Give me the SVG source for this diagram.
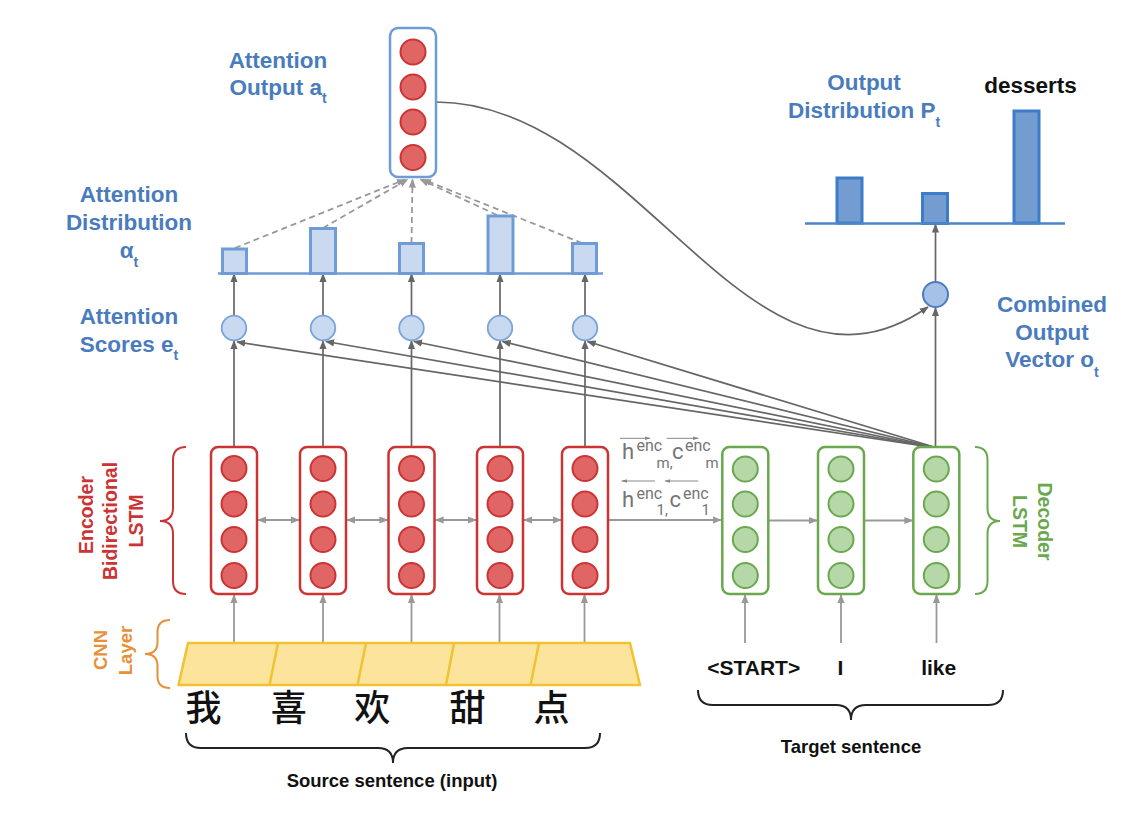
<svg xmlns="http://www.w3.org/2000/svg" width="1146" height="816" viewBox="0 0 1146 816">
<defs>
<style>
.lbl{font-family:"Liberation Sans",Arial,sans-serif;font-weight:bold;font-size:22.5px;fill:#4a7cbd;text-anchor:middle}
.sub{font-size:14px}
.blk{font-family:"Liberation Sans",Arial,sans-serif;font-weight:bold;fill:#111;text-anchor:middle}
.enc-box{fill:#fff;stroke:#cc3333;stroke-width:2.5}
.enc-c{fill:#e06666;stroke:#cc3333;stroke-width:2}
.dec-box{fill:#fff;stroke:#6aa84f;stroke-width:2.5}
.dec-c{fill:#b6d7a8;stroke:#6aa84f;stroke-width:2}
.att-box{fill:#fff;stroke:#6f9bd6;stroke-width:2.5}
.bar{fill:#c9daf0;stroke:#6f9bd6;stroke-width:3}
.obar{fill:#739dd1;stroke:#3d7cc9;stroke-width:3}
.sc{fill:#c9daf0;stroke:#7aa3db;stroke-width:1.8}
.dk{stroke:#666;stroke-width:1.7;fill:none}
.gr{stroke:#999;stroke-width:1.8;fill:none}
.ds{stroke:#999;stroke-width:1.8;fill:none;stroke-dasharray:6 4}
.hl{font-family:Roboto,"Liberation Sans",sans-serif;fill:#757575}
.brace{fill:none;stroke-width:2}
</style>
<marker id="ad" viewBox="0 0 10 10" refX="9" refY="5" markerWidth="9" markerHeight="9" markerUnits="userSpaceOnUse" orient="auto"><path d="M0,1 L10,5 L0,9 z" fill="#666"/></marker>
<marker id="ag" viewBox="0 0 10 10" refX="9" refY="5" markerWidth="9" markerHeight="9" markerUnits="userSpaceOnUse" orient="auto-start-reverse"><path d="M0,1 L10,5 L0,9 z" fill="#999"/></marker>
<marker id="as" viewBox="0 0 10 10" refX="9" refY="5" markerWidth="6" markerHeight="6" markerUnits="userSpaceOnUse" orient="auto"><path d="M0,2 L10,5 L0,8 z" fill="#888"/></marker>
</defs>

<rect width="1146" height="816" fill="#fff"/>

<g id="connectors">
  <line class="gr" x1="234" y1="643" x2="234" y2="595" marker-end="url(#ag)"/>
  <line class="gr" x1="323" y1="643" x2="323" y2="595" marker-end="url(#ag)"/>
  <line class="gr" x1="411.5" y1="643" x2="411.5" y2="595" marker-end="url(#ag)"/>
  <line class="gr" x1="499.5" y1="643" x2="499.5" y2="595" marker-end="url(#ag)"/>
  <line class="gr" x1="584.5" y1="643" x2="584.5" y2="595" marker-end="url(#ag)"/>
  <line class="gr" x1="745" y1="643" x2="745" y2="595" marker-end="url(#ag)"/>
  <line class="gr" x1="841" y1="643" x2="841" y2="595" marker-end="url(#ag)"/>
  <line class="gr" x1="936.5" y1="643" x2="936.5" y2="595" marker-end="url(#ag)"/>
  <line class="gr" x1="258" y1="520" x2="299" y2="520" marker-start="url(#ag)" marker-end="url(#ag)"/>
  <line class="gr" x1="347" y1="520" x2="387.5" y2="520" marker-start="url(#ag)" marker-end="url(#ag)"/>
  <line class="gr" x1="435.5" y1="520" x2="476" y2="520" marker-start="url(#ag)" marker-end="url(#ag)"/>
  <line class="gr" x1="524" y1="520" x2="561" y2="520" marker-start="url(#ag)" marker-end="url(#ag)"/>
  <line class="gr" x1="608" y1="520" x2="721" y2="520" marker-end="url(#ag)"/>
  <line class="gr" x1="768.5" y1="520.5" x2="817" y2="520.5" marker-end="url(#ag)"/>
  <line class="gr" x1="864.5" y1="520.5" x2="912.5" y2="520.5" marker-end="url(#ag)"/>
  <line class="dk" x1="234" y1="447" x2="234" y2="341" marker-end="url(#ad)"/>
  <line class="dk" x1="323" y1="447" x2="323" y2="341" marker-end="url(#ad)"/>
  <line class="dk" x1="411.5" y1="447" x2="411.5" y2="341" marker-end="url(#ad)"/>
  <line class="dk" x1="500" y1="447" x2="500" y2="341" marker-end="url(#ad)"/>
  <line class="dk" x1="585" y1="447" x2="585" y2="341" marker-end="url(#ad)"/>
  <line class="dk" x1="930" y1="447" x2="237" y2="342" marker-end="url(#ad)"/>
  <line class="dk" x1="931" y1="447" x2="326" y2="341.5" marker-end="url(#ad)"/>
  <line class="dk" x1="932" y1="447" x2="414" y2="341.5" marker-end="url(#ad)"/>
  <line class="dk" x1="933" y1="447" x2="502.5" y2="341.5" marker-end="url(#ad)"/>
  <line class="dk" x1="934" y1="447" x2="587.5" y2="341.5" marker-end="url(#ad)"/>
  <line class="dk" x1="234" y1="316" x2="234" y2="274" marker-end="url(#ad)"/>
  <line class="dk" x1="323" y1="316" x2="323" y2="274" marker-end="url(#ad)"/>
  <line class="dk" x1="411.5" y1="316" x2="411.5" y2="274" marker-end="url(#ad)"/>
  <line class="dk" x1="500" y1="316" x2="500" y2="274" marker-end="url(#ad)"/>
  <line class="dk" x1="585" y1="316" x2="585" y2="274" marker-end="url(#ad)"/>
  <line class="ds" x1="235" y1="248" x2="405" y2="179.5" marker-end="url(#ag)"/>
  <line class="ds" x1="323" y1="228" x2="407.5" y2="179.5" marker-end="url(#ag)"/>
  <line class="ds" x1="411.5" y1="243" x2="412.5" y2="179.5" marker-end="url(#ag)"/>
  <line class="ds" x1="497" y1="215" x2="420.5" y2="179.5" marker-end="url(#ag)"/>
  <line class="ds" x1="582" y1="243" x2="423" y2="179.5" marker-end="url(#ag)"/>
  <path class="dk" d="M436,102 C640,102 750,430 928,307" marker-end="url(#ad)"/>
  <line class="dk" x1="935.5" y1="447" x2="935.5" y2="308" marker-end="url(#ad)"/>
  <line class="dk" x1="935.5" y1="282" x2="935.5" y2="224.5" marker-end="url(#ad)"/>
</g>

<g id="cnn-layer">
  <polygon points="188,643 630,643 640,685 178.5,685" fill="#fce49c" stroke="#f1c232" stroke-width="2.5" stroke-linejoin="round"/>
  <line x1="278" y1="643" x2="269.5" y2="685" stroke="#f1c232" stroke-width="2.5"/>
  <line x1="366" y1="643" x2="357.5" y2="685" stroke="#f1c232" stroke-width="2.5"/>
  <line x1="454" y1="643" x2="446" y2="685" stroke="#f1c232" stroke-width="2.5"/>
  <line x1="539" y1="643" x2="530.5" y2="685" stroke="#f1c232" stroke-width="2.5"/>
</g>

<g id="enc1">
  <rect class="enc-box" x="211" y="447" width="46" height="147" rx="7"/>
  <circle class="enc-c" cx="234" cy="468.5" r="12.5"/><circle class="enc-c" cx="234" cy="504" r="12.5"/><circle class="enc-c" cx="234" cy="539.5" r="12.5"/><circle class="enc-c" cx="234" cy="575.5" r="12.5"/>
</g>
<g id="enc2">
  <rect class="enc-box" x="300" y="447" width="46" height="147" rx="7"/>
  <circle class="enc-c" cx="323" cy="468.5" r="12.5"/><circle class="enc-c" cx="323" cy="504" r="12.5"/><circle class="enc-c" cx="323" cy="539.5" r="12.5"/><circle class="enc-c" cx="323" cy="575.5" r="12.5"/>
</g>
<g id="enc3">
  <rect class="enc-box" x="388.5" y="447" width="46" height="147" rx="7"/>
  <circle class="enc-c" cx="411.5" cy="468.5" r="12.5"/><circle class="enc-c" cx="411.5" cy="504" r="12.5"/><circle class="enc-c" cx="411.5" cy="539.5" r="12.5"/><circle class="enc-c" cx="411.5" cy="575.5" r="12.5"/>
</g>
<g id="enc4">
  <rect class="enc-box" x="477" y="447" width="46" height="147" rx="7"/>
  <circle class="enc-c" cx="500" cy="468.5" r="12.5"/><circle class="enc-c" cx="500" cy="504" r="12.5"/><circle class="enc-c" cx="500" cy="539.5" r="12.5"/><circle class="enc-c" cx="500" cy="575.5" r="12.5"/>
</g>
<g id="enc5">
  <rect class="enc-box" x="562" y="447" width="46" height="147" rx="7"/>
  <circle class="enc-c" cx="585" cy="468.5" r="12.5"/><circle class="enc-c" cx="585" cy="504" r="12.5"/><circle class="enc-c" cx="585" cy="539.5" r="12.5"/><circle class="enc-c" cx="585" cy="575.5" r="12.5"/>
</g>

<g id="dec1">
  <rect class="dec-box" x="722.3" y="447" width="46" height="147" rx="7"/>
  <circle class="dec-c" cx="745.3" cy="469" r="12.5"/><circle class="dec-c" cx="745.3" cy="504" r="12.5"/><circle class="dec-c" cx="745.3" cy="539.5" r="12.5"/><circle class="dec-c" cx="745.3" cy="575.5" r="12.5"/>
</g>
<g id="dec2">
  <rect class="dec-box" x="818" y="447" width="46" height="147" rx="7"/>
  <circle class="dec-c" cx="841" cy="469" r="12.5"/><circle class="dec-c" cx="841" cy="504" r="12.5"/><circle class="dec-c" cx="841" cy="539.5" r="12.5"/><circle class="dec-c" cx="841" cy="575.5" r="12.5"/>
</g>
<g id="dec3">
  <rect class="dec-box" x="913.3" y="447" width="46" height="147" rx="7"/>
  <circle class="dec-c" cx="936.3" cy="469" r="12.5"/><circle class="dec-c" cx="936.3" cy="504" r="12.5"/><circle class="dec-c" cx="936.3" cy="539.5" r="12.5"/><circle class="dec-c" cx="936.3" cy="575.5" r="12.5"/>
</g>

<g id="attention-scores">
  <circle class="sc" cx="234" cy="328" r="12.3"/>
  <circle class="sc" cx="323" cy="328" r="12.3"/>
  <circle class="sc" cx="411.5" cy="328" r="12.3"/>
  <circle class="sc" cx="500" cy="328" r="12.3"/>
  <circle class="sc" cx="585" cy="328" r="12.3"/>
</g>

<g id="attention-distribution">
  <rect class="bar" x="222.5" y="249" width="24" height="24.5"/>
  <rect class="bar" x="310.5" y="228.5" width="25" height="45"/>
  <rect class="bar" x="399.5" y="243.5" width="24" height="30"/>
  <rect class="bar" x="488" y="216" width="25" height="57.5"/>
  <rect class="bar" x="572.5" y="243.5" width="24" height="30"/>
  <line x1="218" y1="273.5" x2="603" y2="273.5" stroke="#6f9bd6" stroke-width="2.5"/>
</g>

<g id="attention-output">
  <rect class="att-box" x="390" y="28" width="46" height="149" rx="8"/>
  <circle class="enc-c" cx="413" cy="52" r="12.5"/><circle class="enc-c" cx="413" cy="87" r="12.5"/><circle class="enc-c" cx="413" cy="122" r="12.5"/><circle class="enc-c" cx="413" cy="157.5" r="12.5"/>
</g>

<g id="combined-output">
  <circle cx="935.5" cy="294.5" r="12.5" fill="#a6c1e6" stroke="#4a7cc4" stroke-width="2"/>
</g>

<g id="output-distribution">
  <rect class="obar" x="837" y="178" width="25" height="45"/>
  <rect class="obar" x="922.5" y="193.5" width="25" height="30"/>
  <rect class="obar" x="1014" y="111" width="25" height="112"/>
  <line x1="805" y1="223.5" x2="1065" y2="223.5" stroke="#4a86c8" stroke-width="2.5"/>
  <text class="blk" x="1030.5" y="93.3" font-size="22.5">desserts</text>
</g>

<g id="braces">
  <path class="brace" stroke="#cc3333" d="M186,447 Q173,447 173,460 L173,508 Q173,521 160,521 Q173,521 173,534 L173,581 Q173,594 186,594"/>
  <path class="brace" stroke="#e69138" d="M170,620 Q157.5,620 157.5,632 L157.5,642 Q157.5,654 145,654 Q157.5,654 157.5,666 L157.5,676 Q157.5,688 170,688"/>
  <path class="brace" stroke="#6aa84f" d="M975,447 Q987.5,447 987.5,460 L987.5,508 Q987.5,521 1000,521 Q987.5,521 987.5,534 L987.5,581 Q987.5,594 975,594"/>
  <path class="brace" stroke="#222" stroke-width="1.6" d="M186,733 Q186,748 201,748 L378,748 Q393,748 393,763 Q393,748 408,748 L585,748 Q600,748 600,733"/>
  <path class="brace" stroke="#222" stroke-width="1.6" d="M698,690 Q698,705 713,705 L836,705 Q851,705 851,720 Q851,705 866,705 L988,705 Q1003,705 1003,690"/>
</g>

<g id="enc-state-labels">
  <line x1="620" y1="438.3" x2="650" y2="438.3" stroke="#888" stroke-width="1" marker-end="url(#as)"/>
  <line x1="666.7" y1="438.3" x2="698.3" y2="438.3" stroke="#888" stroke-width="1" marker-end="url(#as)"/>
  <line x1="655" y1="481" x2="621.7" y2="481" stroke="#888" stroke-width="1" marker-end="url(#as)"/>
  <line x1="698.3" y1="481" x2="665" y2="481" stroke="#888" stroke-width="1" marker-end="url(#as)"/>
  <text class="hl" x="622" y="459.3" font-size="22">h</text>
  <text class="hl" x="636.5" y="450.7" font-size="16">enc</text>
  <text class="hl" x="656.5" y="467.7" font-size="15">m,</text>
  <text class="hl" x="672" y="459.3" font-size="22">c</text>
  <text class="hl" x="685" y="450.7" font-size="16">enc</text>
  <text class="hl" x="705.5" y="467.7" font-size="15">m</text>
  <text class="hl" x="622" y="507.3" font-size="22">h</text>
  <text class="hl" x="636.5" y="499" font-size="16">enc</text>
  <text class="hl" x="656.5" y="515" font-size="15">1,</text>
  <text class="hl" x="669.5" y="507.3" font-size="22">c</text>
  <text class="hl" x="683" y="499" font-size="16">enc</text>
  <text class="hl" x="701.5" y="515" font-size="15">1</text>
</g>

<g id="labels">
  <text class="lbl" x="278" y="68.3">Attention</text>
  <text class="lbl" x="278" y="95">Output a<tspan class="sub" dy="7.7">t</tspan></text>
  <text class="lbl" x="129" y="201.7">Attention</text>
  <text class="lbl" x="129" y="230">Distribution</text>
  <text class="lbl" x="129" y="258">α<tspan class="sub" dy="8.5">t</tspan></text>
  <text class="lbl" x="129" y="324">Attention</text>
  <text class="lbl" x="129" y="351.7">Scores e<tspan class="sub" dy="8.3">t</tspan></text>
  <text class="lbl" x="864" y="90">Output</text>
  <text class="lbl" x="864" y="118.3">Distribution P<tspan class="sub" dy="8.7">t</tspan></text>
  <text class="lbl" x="1052" y="311.7">Combined</text>
  <text class="lbl" x="1052" y="340">Output</text>
  <text class="lbl" x="1052" y="366.7">Vector o<tspan class="sub" dy="10">t</tspan></text>

  <g font-family="'Liberation Sans',Arial,sans-serif" font-weight="bold" font-size="19.5" fill="#cc3333" text-anchor="middle">
    <text transform="translate(93.3,515) rotate(-90)">Encoder</text>
    <text transform="translate(117.3,521) rotate(-90)">Bidirectional</text>
    <text transform="translate(142.7,521) rotate(-90)">LSTM</text>
  </g>
  <g font-family="'Liberation Sans',Arial,sans-serif" font-weight="bold" font-size="18.5" fill="#e69138" text-anchor="middle">
    <text transform="translate(106.7,650) rotate(-90)">CNN</text>
    <text transform="translate(131.5,650.5) rotate(-90)">Layer</text>
  </g>
  <g font-family="'Liberation Sans',Arial,sans-serif" font-weight="bold" font-size="19.5" fill="#6aa84f" text-anchor="middle">
    <text transform="translate(1038,521.5) rotate(90)">Decoder</text>
    <text transform="translate(1013,521.5) rotate(90)">LSTM</text>
  </g>

  <g font-family="'Noto Sans CJK SC','Noto Sans CJK JP',sans-serif" font-size="36" font-weight="500" fill="#111" text-anchor="middle">
    <text x="203.5" y="720.5">我</text>
    <text x="288.7" y="720.5">喜</text>
    <text x="372.3" y="720.5">欢</text>
    <text x="467.6" y="720.5">甜</text>
    <text x="551.4" y="720.5">点</text>
  </g>
  <text class="blk" x="392" y="786.7" font-size="18.5">Source sentence (input)</text>
  <text class="blk" x="753.7" y="675" font-size="21">&lt;START&gt;</text>
  <text class="blk" x="840.5" y="675" font-size="21">I</text>
  <text class="blk" x="938.7" y="675" font-size="21">like</text>
  <text class="blk" x="851" y="753.3" font-size="18.5">Target sentence</text>
</g>
</svg>
